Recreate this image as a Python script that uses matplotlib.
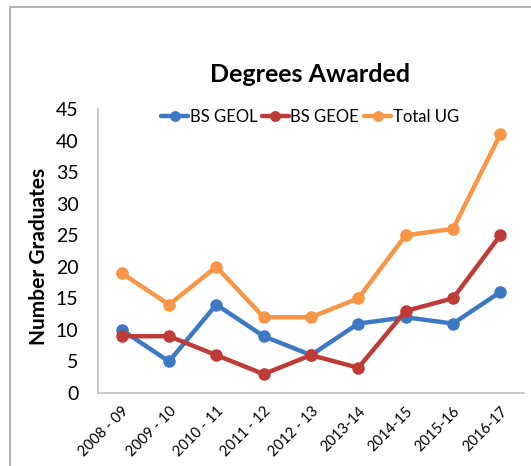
import matplotlib
matplotlib.use("Agg")
import matplotlib.pyplot as plt
import matplotlib.transforms as mtransforms
from matplotlib.patches import Rectangle

# academic years on the x axis
years = ["2008 - 09", "2009 - 10", "2010 - 11", "2011 - 12", "2012 - 13",
         "2013-14", "2014-15", "2015-16", "2016-17"]

# graduates per year
bs_geol = [10, 5, 14, 9, 6, 11, 12, 11, 16]
bs_geoe = [9, 9, 6, 3, 6, 4, 13, 15, 25]
total_ug = [19, 14, 20, 12, 12, 15, 25, 26, 41]

yticks = [0, 5, 10, 15, 20, 25, 30, 35, 40, 45]

plt.rcParams['font.family'] = ['Lato', 'DejaVu Sans']

fig = plt.figure(figsize=(5.31, 4.66), dpi=100)

# chart frame (only top and left edges show in the crop)
fig.patches.append(Rectangle((10 / 531, -0.05), 1.2, 1.05 - 7 / 466,
                             transform=fig.transFigure, fill=False,
                             edgecolor='#A6A6A6', linewidth=1.2))

ax = fig.add_axes([98 / 531, 73 / 466, 426 / 531, 284 / 466])

x = range(len(years))
series = [
    (bs_geol, 'BS GEOL', '#3C78C3'),
    (bs_geoe, 'BS GEOE', '#BE3B37'),
    (total_ug, 'Total UG', '#F79646'),
]
for vals, name, col in series:
    ax.plot(x, vals, color=col, linewidth=3.2, marker='o', markersize=8,
            label=name, solid_capstyle='round')

ax.set_xlim(-0.5, len(years) - 0.5)
ax.set_ylim(0, 45)
ax.set_yticks(yticks)
ax.set_xticks(list(x))
ax.set_xticklabels(years, rotation=45, ha='right', rotation_mode='anchor',
                   fontsize=10.5)
# nudge the slanted labels a little to the right, like the original
shift = mtransforms.ScaledTranslation(6 / 100, 0, fig.dpi_scale_trans)
for lbl in ax.get_xticklabels():
    lbl.set_transform(lbl.get_transform() + shift)
ax.tick_params(axis='y', length=0, pad=14, labelsize=14)
ax.tick_params(axis='x', length=0, pad=8)

for side in ['top', 'right']:
    ax.spines[side].set_visible(False)
for side in ['left', 'bottom']:
    ax.spines[side].set_color('#BFBFBF')
    ax.spines[side].set_linewidth(1.2)

fig.text(39 / 531, 1 - 256 / 466, 'Number Graduates', rotation=90,
         ha='center', va='center', fontsize=15, fontweight='bold')
fig.text(310 / 531, 1 - 75 / 466, 'Degrees Awarded', ha='center',
         va='center', fontsize=18, fontweight='bold')

fig.legend(loc='center', bbox_to_anchor=(310 / 531, 1 - 117 / 466), ncol=3,
           frameon=False, fontsize=12, handlelength=1.6, handletextpad=0.1,
           columnspacing=0.3, markerscale=0.85)

fig.savefig('out.png', dpi=100)
